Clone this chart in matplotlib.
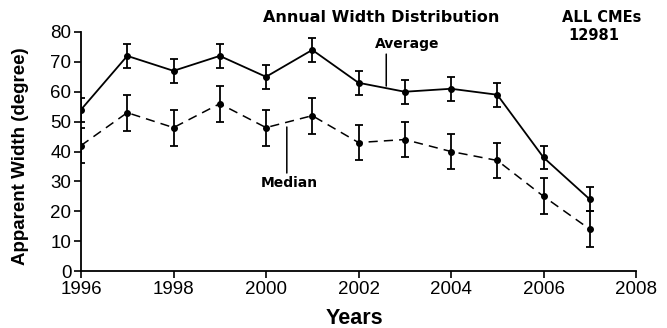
import matplotlib
matplotlib.use("Agg")
import matplotlib.pyplot as plt

plt.rcParams['font.family'] = ['Liberation Sans', 'DejaVu Sans']

years = [1996, 1997, 1998, 1999, 2000, 2001, 2002, 2003, 2004, 2005, 2006, 2007]
average_width = [54, 72, 67, 72, 65, 74, 63, 60, 61, 59, 38, 24]
average_err = [4, 4, 4, 4, 4, 4, 4, 4, 4, 4, 4, 4]
median_width = [42, 53, 48, 56, 48, 52, 43, 44, 40, 37, 25, 14]
median_err = [6, 6, 6, 6, 6, 6, 6, 6, 6, 6, 6, 6]

fig = plt.figure(figsize=(6.67, 3.28), dpi=100)
ax = fig.add_axes([81/667, 1 - 271/328, (636 - 81)/667, (271 - 32)/328])

ax.errorbar(years, average_width, yerr=average_err, color='black', lw=1.3,
            marker='o', ms=4, capsize=3, elinewidth=1.3, capthick=1.3)
ax.errorbar(years, median_width, yerr=median_err, color='black', lw=1.1,
            ls=(0, (6, 4)), marker='o', ms=4, capsize=3, elinewidth=1.3, capthick=1.3)

ax.set_xlim(1996, 2008)
ax.set_ylim(0, 80)
ax.set_xticks(range(1996, 2009, 2))
ax.set_yticks(range(0, 81, 10))
for s in ['top', 'right']:
    ax.spines[s].set_visible(False)
for s in ['left', 'bottom']:
    ax.spines[s].set_linewidth(1.3)
ax.tick_params(direction='out', length=5, width=1.2, labelsize=13.5, pad=2)

ax.set_xlabel('Years', fontsize=15.5, fontweight='bold')
ax.xaxis.set_label_coords(0.492, -0.2, transform=ax.transAxes)
ax.xaxis.label.set_va('center')
ax.set_ylabel('Apparent Width (degree)', fontsize=13.5, fontweight='bold')
ax.yaxis.set_label_coords(-0.094, 0.48)

bold = dict(family='DejaVu Sans', fontweight='bold')

# series annotations: leader lines plus labels
ax.annotate('', xy=(2002.6, 61.9), xytext=(2002.6, 72.6),
            arrowprops=dict(arrowstyle='-', lw=1.1, color='black', shrinkA=0, shrinkB=0))
ax.text(2003.05, 76, 'Average', ha='center', va='center', fontsize=10, **bold)
ax.annotate('', xy=(2000.45, 48.2), xytext=(2000.45, 32.8),
            arrowprops=dict(arrowstyle='-', lw=1.1, color='black', shrinkA=0, shrinkB=0))
ax.text(2000.5, 29.5, 'Median', ha='center', va='center', fontsize=10, **bold)

fig.text(381/667, 1 - 17/328, 'Annual Width Distribution', ha='center', va='center',
         fontsize=11.5, **bold)
fig.text(602/667, 1 - 18/328, 'ALL CMEs', ha='center', va='center',
         fontsize=10.5, **bold)
fig.text(594/667, 1 - 35/328, '12981', ha='center', va='center',
         fontsize=10.5, **bold)

fig.savefig('out.png', dpi=100)
